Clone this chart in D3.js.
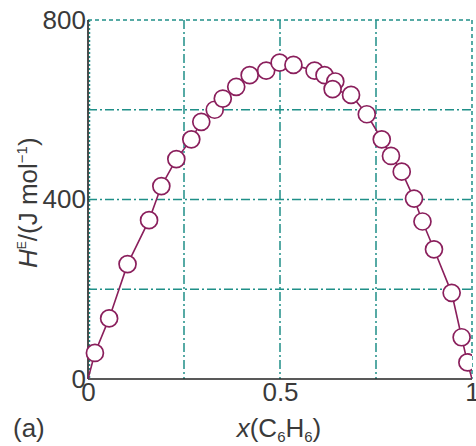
<!DOCTYPE html>
<html>
<head>
<meta charset="utf-8">
<script src="https://cdn.jsdelivr.net/npm/d3@7"></script>
<style>
	body { margin: 0; background: #fff; }
	svg { display: block; font-family: "Liberation Sans", Arial, sans-serif; }
	.grid line { stroke: #1f8f88; stroke-width: 1.5; }
</style>
</head>
<body>
<svg width="476" height="446"></svg>
<script>
// mole fraction of benzene and excess enthalpy
const xBenzene = [0.018, 0.055, 0.103, 0.159, 0.191, 0.230, 0.269, 0.295, 0.330, 0.351,
	0.386, 0.421, 0.464, 0.499, 0.535, 0.590, 0.616, 0.644, 0.637, 0.685,
	0.726, 0.765, 0.789, 0.817, 0.849, 0.871, 0.901, 0.947, 0.973, 0.988];
const hExcess = [58, 135, 256, 354, 430, 490, 534, 573, 600, 625,
	651, 677, 687, 705, 700, 687, 677, 663, 646, 633,
	590, 534, 497, 462, 402, 351, 289, 192, 93, 37];
const xTicks = [0, 0.5, 1];
const yTicks = [0, 400, 800];
const xGrid = [0.25, 0.5, 0.75];
const yGrid = [200, 400, 600];

const svg = d3.select("svg");
const x = d3.scaleLinear().domain([0, 1]).range([88, 472]);
const y = d3.scaleLinear().domain([0, 800]).range([379, 20]);

const points = xBenzene.map((v, i) => ({ x: v, h: hExcess[i] }));
const linePts = [{ x: 0, h: 0 }].concat(points, [{ x: 1, h: 0 }]);

svg.append("clipPath").attr("id", "clip")
	.append("rect").attr("x", 0).attr("y", 0).attr("width", x(1)).attr("height", y(0));

// grid
const grid = svg.append("g").attr("class", "grid");
grid.selectAll(".vx").data(xGrid).enter().append("line")
	.attr("x1", d => x(d)).attr("x2", d => x(d))
	.attr("y1", y(800)).attr("y2", y(0))
	.attr("stroke-dasharray", "9,3,2,3");
grid.selectAll(".hy").data(yGrid).enter().append("line")
	.attr("x1", x(0)).attr("x2", x(1))
	.attr("y1", d => y(d)).attr("y2", d => y(d))
	.attr("stroke-dasharray", "9,3,2,3");
// dotted borders at top, right and left
grid.append("line")
	.attr("x1", x(0)).attr("x2", x(1)).attr("y1", y(800)).attr("y2", y(800))
	.attr("stroke-dasharray", "4,3");
grid.append("line")
	.attr("x1", x(1)).attr("x2", x(1)).attr("y1", y(800)).attr("y2", y(0))
	.attr("stroke-dasharray", "4,3");
grid.append("line")
	.attr("x1", x(0) + 1.5).attr("x2", x(0) + 1.5).attr("y1", y(800)).attr("y2", y(0))
	.attr("stroke-dasharray", "2,2");

// axes
const xAxis = svg.append("g")
	.attr("transform", "translate(0," + y(0) + ")")
	.call(d3.axisBottom(x).tickValues(xTicks).tickSize(0).tickPadding(4).tickFormat(d3.format("")));
const yAxis = svg.append("g")
	.attr("transform", "translate(" + x(0) + ",0)")
	.call(d3.axisLeft(y).tickValues(yTicks).tickSize(0).tickPadding(2));
[xAxis, yAxis].forEach(a => {
	a.select(".domain").attr("stroke", "#222").attr("stroke-width", 1.6);
	a.selectAll("text").attr("font-size", 26).attr("fill", "#3a3a3a")
		.attr("font-family", "Liberation Sans, Arial, sans-serif");
});
yAxis.select(".domain").attr("d", "M0," + y(800) + "V" + y(0));
xAxis.select(".domain").attr("d", "M" + x(0) + ",0H" + x(1));

// data
const plot = svg.append("g").attr("clip-path", "url(#clip)");
plot.append("path")
	.datum(linePts)
	.attr("fill", "none")
	.attr("stroke", "#8a1f5c")
	.attr("stroke-width", 1.6)
	.attr("d", d3.line().x(d => x(d.x)).y(d => y(d.h)));
plot.selectAll("circle").data(points).enter().append("circle")
	.attr("cx", d => x(d.x))
	.attr("cy", d => y(d.h))
	.attr("r", 8.5)
	.attr("fill", "#fff")
	.attr("stroke", "#8a1f5c")
	.attr("stroke-width", 1.7);

// labels
const xl = svg.append("text")
	.attr("x", 279).attr("y", 437)
	.attr("text-anchor", "middle")
	.attr("font-size", 26).attr("fill", "#3a3a3a");
xl.append("tspan").attr("font-style", "italic").text("x");
xl.append("tspan").text("(C");
xl.append("tspan").attr("font-size", 15).attr("dy", 5).text("6");
xl.append("tspan").attr("dy", -5).text("H");
xl.append("tspan").attr("font-size", 15).attr("dy", 5).text("6");
xl.append("tspan").attr("dy", -5).text(")");

const yl = svg.append("text")
	.attr("transform", "translate(37,268) rotate(-90)")
	.attr("font-size", 26).attr("fill", "#3a3a3a");
yl.append("tspan").attr("font-style", "italic").text("H");
yl.append("tspan").attr("font-size", 12).attr("dy", -11).text("E");
yl.append("tspan").attr("dy", 11).text("/(J mol");
yl.append("tspan").attr("font-size", 15).attr("dy", -10).text("−1");
yl.append("tspan").attr("dy", 10).text(")");

svg.append("text")
	.attr("x", 13).attr("y", 437)
	.attr("font-size", 26).attr("fill", "#3a3a3a")
	.text("(a)");
</script>
</body>
</html>
